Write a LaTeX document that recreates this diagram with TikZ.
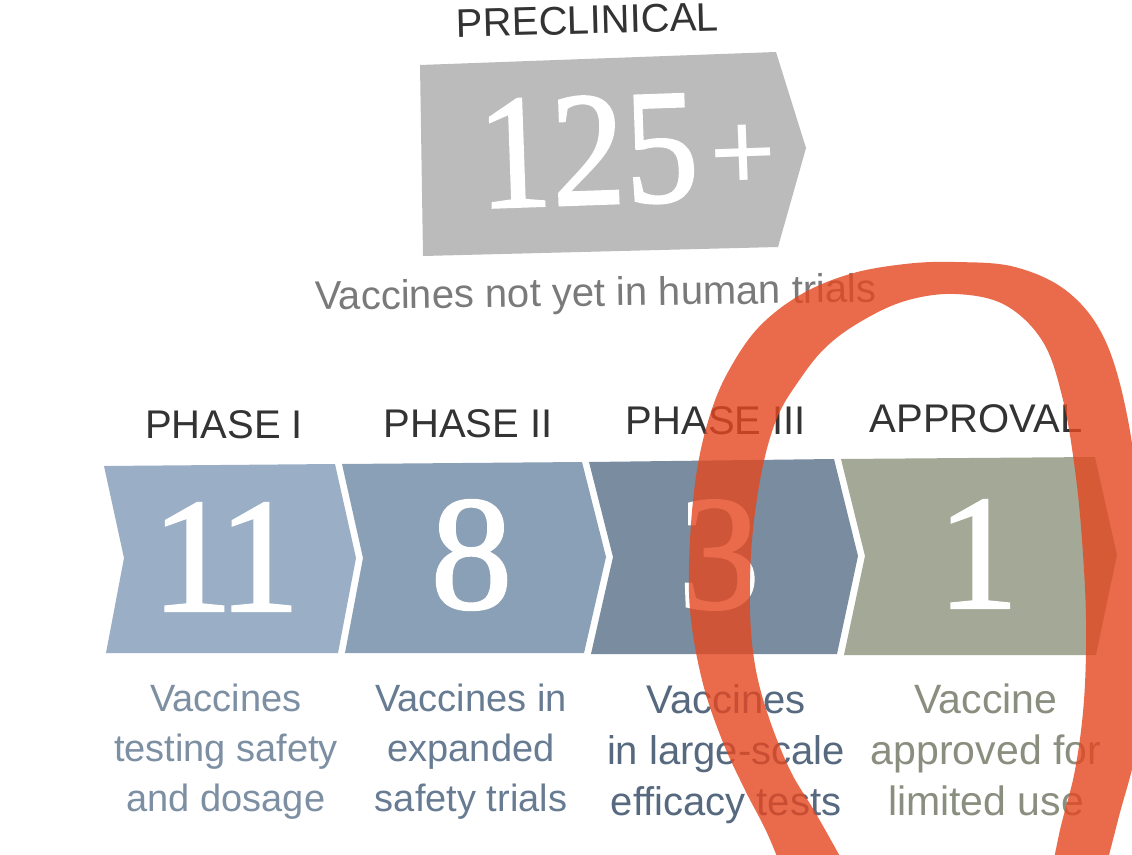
\documentclass[tikz,border=0pt]{standalone}
\usepackage{graphicx}
\usepackage{fontspec}
\setmainfont{Liberation Sans}
\newfontfamily\numf[RawFeature={embolden=1.5}]{Liberation Serif}
\definecolor{headc}{HTML}{333333}
\definecolor{subc}{HTML}{7A7A7A}
\definecolor{pregray}{HTML}{BBBBBB}
\definecolor{boxa}{HTML}{9AAFC6}
\definecolor{boxb}{HTML}{8AA0B6}
\definecolor{boxc}{HTML}{7A8DA0}
\definecolor{boxd}{HTML}{A3A897}
\definecolor{desca}{HTML}{7D8FA3}
\definecolor{descb}{HTML}{677C93}
\definecolor{descc}{HTML}{56697F}
\definecolor{descd}{HTML}{8A8E7F}
\definecolor{ringc}{HTML}{E5471F}
\begin{document}
\begin{tikzpicture}[x=1pt,y=-1pt,
  head/.style={font=\fontsize{40}{40}\selectfont, text=headc, inner sep=0, anchor=base},
  desc/.style={align=center, inner sep=0, anchor=north},
  bignum/.style={font=\numf\fontsize{163}{163}\selectfont, text=white, inner sep=0},
  ring/.style={fill=ringc, opacity=0.8}]
\useasboundingbox (0,0) rectangle (1132,854);
\fill[white] (0,0) rectangle (1132,854);

% preclinical
\node[head, rotate=1.5] (pre) at (588,34) {PRECLINICAL};
\fill[pregray] (420,65) -- (776,52) -- (806,148) -- (778,247) -- (423,256) -- cycle;
\node[bignum, rotate=2] (n125) at (588,151) {\scalebox{0.9}[1]{125}};
\node[font=\fontsize{113}{113}\selectfont, text=white, inner sep=0, anchor=base, rotate=2] (plus) at (744,190) {+};
\node[font=\fontsize{40}{40}\selectfont, text=subc, inner sep=0, anchor=base, rotate=0.8] (sub) at (596,306) {Vaccines not yet in human trials};

% phase headings
\node[head] (h1) at (224,438) {PHASE I};
\node[head] (h2) at (468,437) {PHASE II};
\node[head] (h3) at (716,434) {PHASE III};
\node[head] (h4) at (976,432) {APPROVAL};

% chevrons
\fill[boxa] (104,466) -- (335,464) -- (356,558) -- (338,653) -- (106,653) -- (124,558) -- cycle;
\fill[boxb] (342,464) -- (582,462) -- (606,557) -- (584,653) -- (345,653) -- (363,558) -- cycle;
\fill[boxc] (589,462) -- (834,459) -- (858,556) -- (837,654) -- (591,654) -- (613,557) -- cycle;
\fill[boxd] (841,459) -- (1095,457) -- (1117,555) -- (1096,655) -- (844,655) -- (865,556) -- cycle;

\node[bignum] (n11) at (225.5,557) {1\kern-0.09em 1};
\node[bignum] (n8) at (471.5,555) {8};
\node[bignum] (n3) at (719,555) {3};
\node[bignum] (n1) at (978,554) {1};

% descriptions
\node[desc, text=desca, font=\fontsize{38}{50}\selectfont] (d1) at (226,684) {Vaccines\\testing safety\\and dosage};
\node[desc, text=descb, font=\fontsize{38}{50}\selectfont] (d2) at (471,684) {Vaccines in\\expanded\\safety trials};
\node[desc, text=descc, font=\fontsize{40}{51}\selectfont] (d3) at (726,684) {Vaccines\\in large-scale\\efficacy tests};
\node[desc, text=descd, font=\fontsize{41}{51}\selectfont] (d4) at (986,684) {Vaccine\\approved for\\limited use};

% hand-drawn ring
\begin{scope}
\clip (0,0) rectangle (1132,854);
\fill[ring] plot[smooth, tension=0.6] coordinates {(790,890) (768,835) (745,790) (722,740) (702,680) (690,610) (690,540) (697,470) (710,415) (728,372) (758,328) (800,295) (850,274) (905,264) (955,262) (1015,267) (1068,292) (1105,340) (1128,420) (1140,520) (1145,640) (1138,740) (1118,820) (1100,890)}
 -- plot[smooth, tension=0.6] coordinates {(1048,890) (1060,830) (1075,770) (1084,700) (1086,620) (1082,540) (1075,470) (1063,400) (1043,342) (1005,305) (955,294) (905,301) (860,322) (825,348) (798,382) (777,418) (762,470) (752,540) (750,610) (755,665) (768,715) (790,770) (815,812) (842,860) (858,890)}
 -- cycle;
\end{scope}
\end{tikzpicture}
\end{document}
